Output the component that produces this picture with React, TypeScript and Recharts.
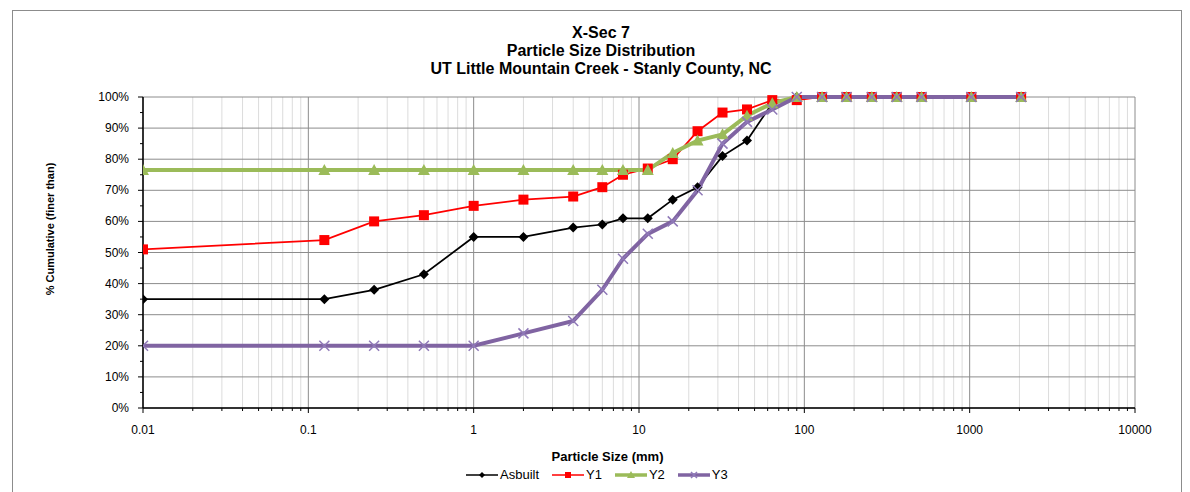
import { LineChart, Line, XAxis, YAxis, CartesianGrid } from "recharts";

// particle sizes (mm) and % finer for each survey
const sizes = [0.01, 0.125, 0.25, 0.5, 1, 2, 4, 6, 8, 11.3, 16, 22.6, 32, 45, 64, 90, 128, 180, 256, 362, 512, 1024, 2048];
const asbuilt = [35, 35, 38, 43, 55, 55, 58, 59, 61, 61, 67, 71, 81, 86, 98, 100, 100, 100, 100, 100, 100, 100, 100];
const y1 = [51, 54, 60, 62, 65, 67, 68, 71, 75, 77, 80, 89, 95, 96, 99, 99, 100, 100, 100, 100, 100, 100, 100];
const y2 = [76.5, 76.5, 76.5, 76.5, 76.5, 76.5, 76.5, 76.5, 76.5, 76.5, 82, 86, 88, 94, 98, 100, 100, 100, 100, 100, 100, 100, 100];
const y3 = [20, 20, 20, 20, 20, 24, 28, 38, 48, 56, 60, 70, 85, 92, 96, 100, 100, 100, 100, 100, 100, 100, 100];

const xMajor = [0.01, 0.1, 1, 10, 100, 1000, 10000];
const xMinor = xMajor.slice(0, -1).flatMap(d => [2, 3, 4, 5, 6, 7, 8, 9].map(m => +(d * m).toPrecision(6)));
const yMajor = [0, 10, 20, 30, 40, 50, 60, 70, 80, 90, 100];
const yAll = [0, 5, 10, 15, 20, 25, 30, 35, 40, 45, 50, 55, 60, 65, 70, 75, 80, 85, 90, 95, 100];

const data = sizes.map((s, i) => ({ size: s, asbuilt: asbuilt[i], y1: y1[i], y2: y2[i], y3: y3[i] }));

const FONT = "'Liberation Sans', Arial, sans-serif";
const C = { asbuilt: "#000000", y1: "#FF0000", y2: "#9BBB59", y3: "#8064A2" };

type Kind = "diamond" | "square" | "triangle" | "x";

function Marker({ cx, cy, kind, size = 5 }: { cx: number; cy: number; kind: Kind; size?: number }) {
  if (cx == null || cy == null) return null;
  const s = size;
  if (kind === "diamond")
    return <path d={`M${cx},${cy - s} L${cx + s},${cy} L${cx},${cy + s} L${cx - s},${cy} Z`} fill={C.asbuilt} />;
  if (kind === "square")
    return <rect x={cx - s} y={cy - s} width={s * 2} height={s * 2} fill={C.y1} />;
  if (kind === "triangle")
    return <path d={`M${cx},${cy - s - 1} L${cx + s + 1},${cy + s} L${cx - s - 1},${cy + s} Z`} fill={C.y2} />;
  return (
    <path d={`M${cx - s},${cy - s} L${cx + s},${cy + s} M${cx - s},${cy + s} L${cx + s},${cy - s}`}
      stroke="#8F79B8" strokeWidth={1.5} fill="none" />
  );
}

const dotFor = (kind: Kind, size?: number) => (p: any) =>
  <Marker key={`${kind}-${p.index}`} cx={p.cx} cy={p.cy} kind={kind} size={size} />;

function XTick({ x, y, payload }: any) {
  const major = xMajor.includes(payload.value);
  return (
    <g>
      <line x1={x} x2={x} y1={y} y2={y + (major ? 5 : 3)} stroke="#000" />
      {major && (
        <text x={x} y={y + 26} textAnchor="middle" fontSize={12} fontFamily={FONT} fill="#000">
          {String(payload.value)}
        </text>
      )}
    </g>
  );
}

function YTick({ x, y, payload }: any) {
  const major = payload.value % 10 === 0;
  return (
    <g>
      <line x1={x} x2={x - (major ? 5 : 3)} y1={y} y2={y} stroke="#000" />
      {major && (
        <text x={x - 14} y={y + 4} textAnchor="end" fontSize={12} fontFamily={FONT} fill="#000">
          {payload.value}%
        </text>
      )}
    </g>
  );
}

function LegendItem({ label, color, width, kind, size }: { label: string; color: string; width: number; kind: Kind; size: number }) {
  return (
    <div style={{ display: "flex", alignItems: "center", marginRight: 13 }}>
      <svg width={32} height={12}>
        <line x1={0} x2={32} y1={6} y2={6} stroke={color} strokeWidth={width} />
        <Marker cx={16} cy={6} kind={kind} size={size} />
      </svg>
      <span style={{ marginLeft: 2 }}>{label}</span>
    </div>
  );
}

export default function App() {
  return (
    <div style={{ position: "absolute", left: 0, top: 0, width: 1190, height: 492, background: "#fff", overflow: "hidden", fontFamily: FONT }}>
      <div style={{ position: "absolute", left: 12, top: 10, width: 1168, height: 500, border: "1px solid #8c8c8c" }} />

      <div style={{ position: "absolute", left: 0, width: 1202, top: 24, textAlign: "center", fontWeight: 700, fontSize: 16, lineHeight: "18px", color: "#000" }}>
        <div>X-Sec 7</div>
        <div>Particle Size Distribution</div>
        <div>UT Little Mountain Creek - Stanly County, NC</div>
      </div>

      <div style={{ position: "absolute", left: 50, top: 229, transform: "translate(-50%, -50%) rotate(-90deg)", whiteSpace: "nowrap", fontWeight: 700, fontSize: 11, color: "#000" }}>
        % Cumulative (finer than)
      </div>

      <div style={{ position: "absolute", left: 0, width: 1215, top: 449, textAlign: "center", fontWeight: 700, fontSize: 13, lineHeight: "16px", color: "#000" }}>
        Particle Size (mm)
      </div>

      <div style={{ position: "absolute", left: 466, top: 467, display: "flex", fontSize: 13, lineHeight: "16px", color: "#000" }}>
        <LegendItem label="Asbuilt" color={C.asbuilt} width={1.5} kind="diamond" size={3} />
        <LegendItem label="Y1" color={C.y1} width={1.5} kind="square" size={3} />
        <LegendItem label="Y2" color={C.y2} width={3.5} kind="triangle" size={3} />
        <LegendItem label="Y3" color={C.y3} width={3.5} kind="x" size={3} />
      </div>

      <div style={{ position: "absolute", left: 0, top: 0 }}>
        <LineChart width={1190} height={492} data={data} margin={{ top: 97, right: 55, left: 83, bottom: 54 }}>
          <CartesianGrid horizontal={false} verticalValues={xMinor} stroke="#dcdcdc" strokeWidth={1} />
          <CartesianGrid vertical horizontal verticalValues={xMajor} horizontalValues={yMajor} stroke="#8c8c8c" strokeWidth={1} />
          <XAxis dataKey="size" type="number" scale="log" domain={[0.01, 10000]} allowDataOverflow
            ticks={[...xMajor, ...xMinor].sort((a, b) => a - b)} interval={0}
            tick={<XTick />} tickLine={false} tickSize={0} tickMargin={0} height={30}
            axisLine={{ stroke: "#000", strokeWidth: 1.5 }} />
          <YAxis type="number" domain={[0, 100]} ticks={yAll} interval={0}
            tick={<YTick />} tickLine={false} tickSize={0} tickMargin={0} width={60}
            axisLine={{ stroke: "#000", strokeWidth: 1.5 }} />
          <Line dataKey="asbuilt" stroke={C.asbuilt} strokeWidth={1.75} dot={dotFor("diamond", 5)} isAnimationActive={false} />
          <Line dataKey="y1" stroke={C.y1} strokeWidth={1.75} dot={dotFor("square", 5)} isAnimationActive={false} />
          <Line dataKey="y2" stroke={C.y2} strokeWidth={4} dot={dotFor("triangle", 5)} isAnimationActive={false} />
          <Line dataKey="y3" stroke={C.y3} strokeWidth={4} dot={dotFor("x", 5)} isAnimationActive={false} />
        </LineChart>
      </div>
    </div>
  );
}
